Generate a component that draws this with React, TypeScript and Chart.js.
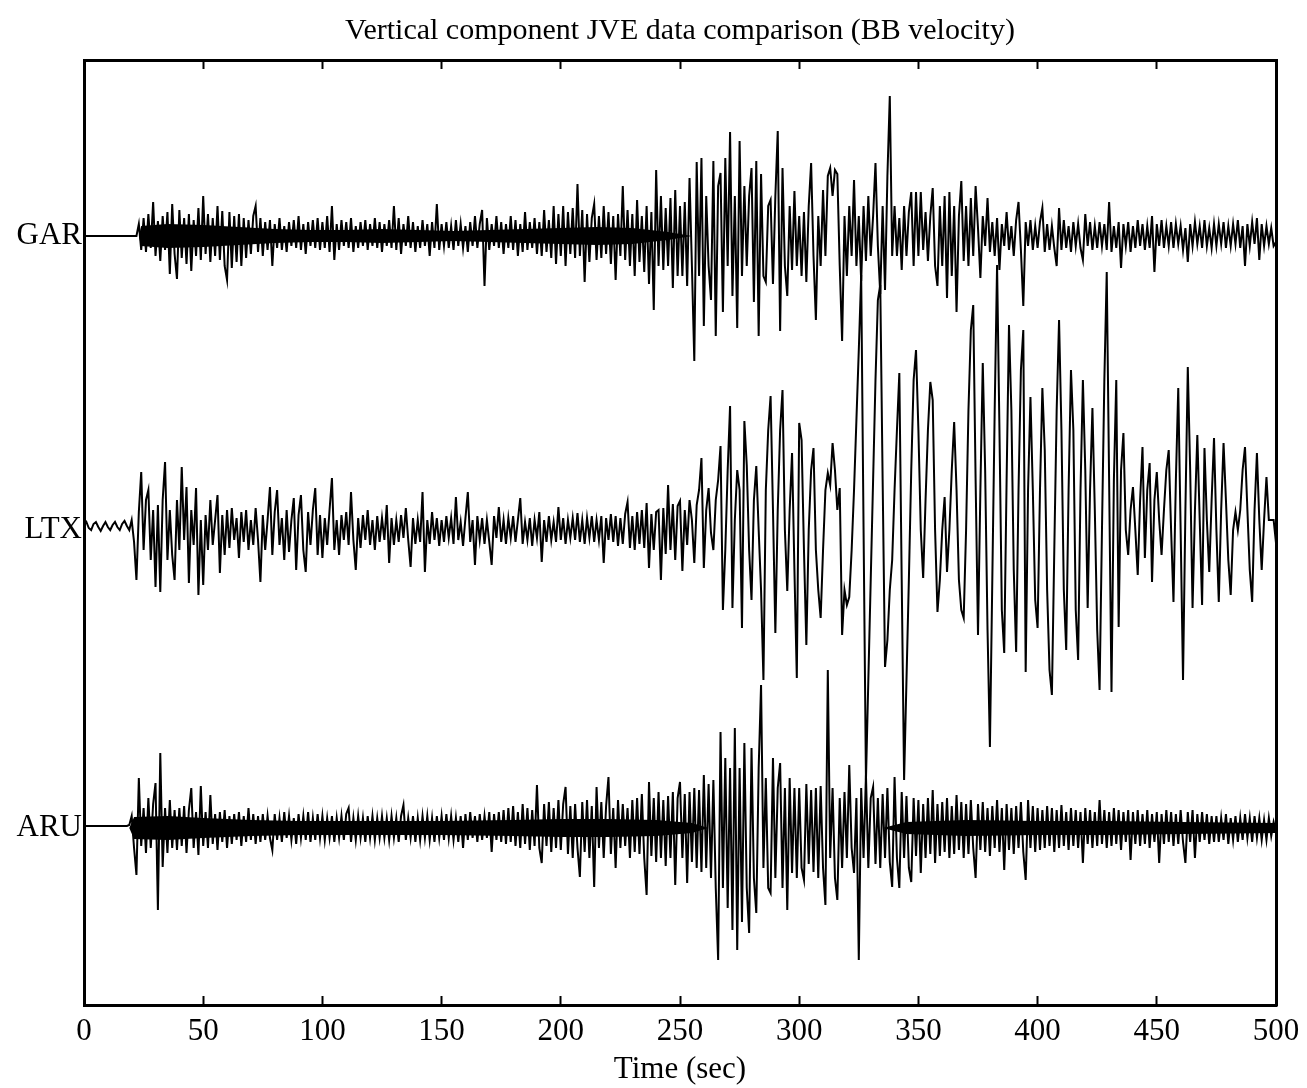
import React, { useEffect, useRef } from 'react';
import { Chart, registerables } from 'chart.js';

Chart.register(...registerables);

const CHART_TITLE = 'Vertical component JVE data comparison (BB velocity)';
const X_TITLE = 'Time (sec)';
const TIME_MIN = 0;
const TIME_MAX = 500;
const TIME_TICK_STEP = 50;
const SAMPLE_SEC = 1; // one value per second
const ROW_SECONDS = 25; // each row below starts at row * 25 s

const STATIONS = ['GAR', 'LTX', 'ARU'];
// vertical offsets of the stacked traces on the (arbitrary) amplitude axis
const TRACE_OFFSETS = [769, 475, 177];
const AMP_MAX = 945;

// Trace amplitudes (arbitrary units, up = positive), one value per second
const GAR_ROWS: number[][] = [
  [0, 0, 0, 0, 0, 0, 0, 0, 0, 0, 0, 0, 0, 0, 0, 0, 0, 0, 0, 0, 0, 0, 0, 12, -14],
  [18, -16, 22, -12, 34, -20, 15, -25, 20, -14, 24, -38, 32, -18, -43, 26, -22, 18, -28, 22, -35, 16, -20, 28, -24],
  [40, -18, 22, -26, 18, -20, 30, -24, 25, -30, -44, 24, -32, 20, -26, 22, -30, 18, -22, 16, -18, 20, 30, -16, 18],
  [-20, 14, -14, 16, -30, 12, -12, 18, -14, 10, -16, 14, -10, 16, -12, 20, -14, 12, -18, 14, -10, 16, -12, 18, -14],
  [14, -12, 20, -16, 30, -24, 12, -14, 16, -10, 14, -12, 18, -16, 10, -12, 14, -10, 16, -14, 12, -10, 18, -12, 14],
  [-16, 12, -10, 16, -12, 30, -14, 18, -18, 12, -10, 20, -12, 14, -16, 10, -12, 16, -10, 12, -20, 14, -12, 32, -14],
  [12, -10, 14, -12, 10, -14, 16, -10, 12, -12, 10, -16, 14, -10, 20, -12, 12, 26, -50, 18, -14, 12, -10, 20, -12],
  [14, -18, 12, -12, 20, -14, 16, -20, 12, -16, 24, -14, 14, -12, 18, -18, 14, -20, 26, -16, 16, -22, 30, -28, 22],
  [-20, 30, -30, 24, -18, 28, -22, 52, -20, 26, -46, 22, -26, 18, 32, -24, 20, -22, 30, -18, 24, -28, 20, -44, 22],
  [-20, 50, -24, 26, -30, 22, -40, 36, -26, 20, -36, 30, -48, 24, -74, 66, -30, 40, -34, 28, -30, 38, -52, 46, -40],
  [30, -40, 34, -50, 58, -30, -125, 74, -40, 78, -90, 40, -30, -64, 75, -100, 50, 63, -76, 78, -30, 104, -60, 40, -92],
  [95, -40, 50, -30, 40, 68, -66, 75, -100, 62, -40, -46, 30, 36, -48, 40, 105, -95, 68, -30, -60, 30, -34, 45, -30],
  [20, -40, 24, -46, 30, 73, -20, -84, 20, -30, 46, -20, 60, 68, 40, 66, 62, -30, -105, 20, -40, 30, -20, 56, -30],
  [20, -45, 30, -25, 40, -20, 20, 73, -10, -58, 30, -54, 60, 140, -20, 30, -20, 18, -34, 30, -20, 24, 44, -30, 44],
  [-20, 44, -14, 24, -25, 20, 48, -30, -50, 30, -30, 40, -62, 44, -40, 30, -76, 20, 55, -25, 30, -30, 38, -20, 50],
  [8, -42, 20, -10, 38, -16, 14, -20, 18, -34, 12, -10, 24, -14, 10, -20, 16, 34, -14, -70, 14, -10, 16, -14, 10],
  [-12, 14, 28, -16, 12, -14, 10, -12, -30, 28, -14, 16, -12, 10, -16, 14, -10, 12, -12, -24, 22, -10, 14, -14, 10],
  [-12, 14, -10, 12, -14, 34, -16, 10, -12, 14, -32, 12, -10, 14, -16, 10, -12, 16, -10, 12, -14, 10, -12, 20, -36],
  [12, -10, 16, -12, 10, -10, 14, -12, 12, -8, 10, -14, 8, -26, 12, -10, 14, -8, 10, -12, 16, -10, 8, -12, 12],
  [-10, 12, -8, 14, -12, 10, -10, 12, -8, 16, -12, 10, -30, 12, -10, 14, -8, 18, -24, 12, -10, 10, -8, 8, -10],
  [-6],
];

const LTX_ROWS: number[][] = [
  [5, 8, 2, 0, 6, 8, 3, -1, 4, 8, 3, 0, 5, 8, 3, 0, 6, 9, 4, 0, 10, -12, -50, 18, 58],
  [-20, 30, 40, -30, 20, -57, 25, -62, 30, 68, -30, 20, -25, -50, 30, -20, 63, -10, 43, -53, 20, -15, 42, -65, 10],
  [-55, 15, -20, 30, -15, 10, 35, -43, 15, -25, 20, -18, 22, -10, 12, -28, 18, -12, 20, -20, 10, -15, 22, -10, -52],
  [15, -20, 10, 43, -25, 18, 40, -15, 12, -30, 20, -22, 10, 32, -40, 15, 35, -20, -42, 18, -15, 20, 42, -25, 15],
  [-28, 12, -15, 20, 52, -20, 10, -25, 15, -10, 18, -15, 38, -10, -40, 12, -18, 15, -10, 20, -15, 10, -20, 14, -12],
  [12, -10, 25, -33, 12, -15, 10, -12, 15, -8, 22, -10, -37, 12, -14, 10, -12, 38, -42, 10, -14, 18, -10, 12, -16],
  [10, -12, 14, -8, 12, -14, 33, -10, 8, -16, 12, 38, -12, 10, -35, 14, -10, 12, -14, 10, -12, -35, 14, -8, 23],
  [-12, 10, -14, 12, -8, 14, -12, 10, 32, -14, 8, -10, 12, -16, 10, -8, 18, -32, 10, -12, 14, -10, 8, -12, 23],
  [-10, 12, -14, 10, -8, 12, -10, 17, -12, 10, -14, 12, -8, 14, -12, 10, -10, 14, -33, 12, -10, 16, -12, 14, -16],
  [12, -14, 16, 28, -18, 14, -20, 18, -14, 20, -18, 27, -38, 16, -20, 18, 20, -50, 22, -24, 45, -20, 26, -30, 24],
  [29, -41, 20, -15, 30, 10, -33, 25, 40, 72, -38, 20, 42, -3, -20, 30, 50, 84, -80, -20, 60, 124, -78, 10, 60],
  [40, -98, 109, 65, -20, -70, 30, 64, 0, -60, -150, 40, 100, 134, 20, -103, 20, 100, 140, 0, -61, 20, 77, -40, -148],
  [107, 90, -20, -115, 0, 60, 82, -20, -60, -88, -20, 40, 57, 45, 87, 60, 20, 42, -105, -60, -75, -67, -20, 40, 110],
  [180, 255, 0, -250, -150, -50, 50, 150, 230, 245, 50, -137, -110, -60, -30, 40, 100, 157, -50, -250, -150, -50, 60, 150, 180],
  [100, 0, -48, 30, 100, 148, 130, 0, -82, -50, 0, 33, -42, 0, 60, 108, 40, -50, -80, -88, 0, 120, 200, 225, 50],
  [-105, 40, 167, 60, -100, -217, -50, 120, 265, 100, -80, -123, 50, 205, 120, -40, -122, 40, 160, 200, -142, 40, 133, 40, -70],
  [-98, 40, 142, 80, -60, -140, -165, -20, 120, 210, 100, -60, -120, 40, 160, 100, -80, -130, 40, 150, 60, -78, 40, 122, 20],
  [-100, -160, 0, 150, 258, 50, -162, 50, 150, -97, 60, 97, 0, -25, 20, 43, 0, -45, 30, 83, -28, 40, 67, -52, 30],
  [58, 10, -25, 20, 60, 80, 0, -72, 50, 142, 0, -150, 20, 163, 60, -78, 20, 95, 10, -75, 82, 10, -42, 30, 92],
  [0, -72, 20, 87, 30, -30, -65, 0, 18, 0, 20, 60, 83, 20, -40, -72, 20, 77, 10, -40, 10, 53, 10, 10, 10],
  [-13],
];

const ARU_ROWS: number[][] = [
  [2, 2, 2, 2, 2, 2, 2, 2, 2, 2, 2, 2, 2, 2, 2, 2, 2, 2, 2, 3, 12, -20, -47, 50, -18],
  [20, -25, 30, -20, 24, 45, -82, 75, -39, 20, -25, 28, -20, 18, -22, 20, -18, 22, -25, 18, 40, -20, 16, -27, 42],
  [-18, 16, -20, 33, -16, 14, -22, 16, -14, 18, -20, 12, -16, 14, -12, 16, -18, 12, -14, 20, -12, 14, -16, 12, -14],
  [14, -12, 12, -10, -22, 14, -12, 10, -14, 16, -10, 12, -12, 10, -16, 14, -10, 12, -12, 16, -14, 10, -12, 14, -10],
  [12, -12, 10, -10, 12, -14, 10, -10, 12, -12, 14, 20, -14, 10, -12, 12, -10, 10, -14, 12, -10, 12, -12, 10, -10],
  [12, -10, 10, -12, 12, -10, 10, -14, 12, 23, -12, 10, -10, 12, -14, 10, -12, 12, -10, 12, -12, 10, -14, 12, -10],
  [12, -12, 14, -10, 12, -12, 10, -14, 12, -20, 14, -12, 16, -10, 12, -14, 14, -12, 12, -10, 16, -24, 14, -12, 16],
  [-14, 18, -16, 20, -14, 22, -18, 16, -20, 24, -16, 20, -22, 18, -18, 43, -20, -35, 24, -18, 26, -24, 20, -20, 28],
  [-22, 24, 41, -26, 22, -30, 24, -20, -49, 26, -24, 28, -30, 22, -59, 41, -20, 26, -30, 22, 51, -26, 20, -40, 28],
  [-20, 24, -18, 20, -30, 28, -24, 30, -26, 34, -30, -67, 46, -28, 30, -34, 36, -30, 28, -38, 32, -30, 36, -57, 30],
  [46, -30, 34, -55, 36, -34, 40, -40, 38, -44, 53, -40, 44, -50, 48, -60, -132, 96, -60, 70, -80, 60, -102, 100, -122],
  [60, -94, 85, -60, -105, 80, -50, -85, 60, 143, -40, 50, -60, -65, 70, -50, 40, 65, -60, 40, -82, 50, -45, 40, -50],
  [40, -40, -52, 44, -36, 38, -44, 40, -50, 42, -40, -77, 158, -30, 40, -50, -72, 30, -40, 36, -30, 63, -20, -45, 30],
  [-132, 40, -30, 53, -40, 30, 41, -36, 30, -40, 34, -30, 40, -34, -59, 51, -30, -60, 36, -30, 32, -40, -54, 30, -28],
  [28, -45, 24, -30, 30, -26, 38, -35, 24, -28, 26, -24, 30, -30, 22, -26, 33, -22, 26, -30, 24, -26, 28, -20, -50],
  [24, -22, 26, -24, 20, -28, 22, -20, 28, -24, 20, -42, 24, -22, 20, -26, 22, -20, 26, -24, -52, 28, -20, 22, -24],
  [20, -22, 18, -20, 22, -18, 20, -24, 18, -20, 23, -18, 16, -22, 20, -18, 18, -20, 16, -35, 20, -16, 18, -20, 16],
  [-18, 28, -16, 18, -20, 16, -18, 20, -16, 18, -22, 16, -14, 18, -32, 16, -16, 18, -18, 14, -16, 18, -20, 14, -14],
  [16, -35, 14, -16, 18, -14, 16, -18, 14, -16, 18, -14, -35, 16, -14, 18, -30, 14, -14, 16, -12, 14, -16, 12, -14],
  [12, -14, 10, -12, 14, -16, 10, -12, 12, -14, 10, -12, 14, -10, 10, -14, 12, -10, 10, -12, 8, -12, 10, -8, 6],
  [-4],
];

// Half-width of the densely inked core of the high-frequency traces
const GAR_CORE_TIMES = [0, 23, 24, 35, 50, 65, 80, 95, 110, 125, 140, 155, 170, 185, 200, 215, 230, 245, 255, 500];
const GAR_CORE = [0, 0, 10, 12, 11, 9, 7, 6, 6, 7, 6, 5, 6, 7, 8, 9, 8, 4, 0, 0];
const ARU_CORE_TIMES = [0, 19, 21, 35, 50, 70, 90, 120, 150, 180, 200, 220, 240, 255, 262, 335, 345, 370, 400, 430, 460, 500];
const ARU_CORE = [0, 0, 11, 12, 10, 8, 7, 7, 7, 8, 9, 9, 8, 5, 0, 0, 6, 8, 7, 7, 6, 5];

const TRACE_ROWS = [GAR_ROWS, LTX_ROWS, ARU_ROWS];

function buildPoints(rows: number[][], offset: number) {
  const pts: { x: number; y: number }[] = [];
  rows.forEach((row, r) => {
    row.forEach((v, j) => {
      pts.push({ x: (r * ROW_SECONDS + j) * SAMPLE_SEC, y: offset + v });
    });
  });
  return pts;
}

function bandDatasets(times: number[], half: number[], offset: number) {
  const upper = times.map((t, i) => ({ x: t, y: offset + half[i] }));
  const lower = times.map((t, i) => ({ x: t, y: offset - half[i] }));
  const common = { borderWidth: 0, borderColor: 'rgba(0,0,0,0)', pointRadius: 0, tension: 0, backgroundColor: '#000' };
  return [
    { ...common, label: 'core+', data: upper, fill: false },
    { ...common, label: 'core-', data: lower, fill: '-1' },
  ];
}

const FONT_FAMILY = '"Liberation Serif", "Times New Roman", Times, serif';

export default function App() {
  const canvasRef = useRef<HTMLCanvasElement>(null);

  useEffect(() => {
    const canvas = canvasRef.current;
    if (!canvas) return;
    Chart.defaults.font.family = FONT_FAMILY;
    Chart.defaults.color = '#000';

    const traceSets = TRACE_ROWS.map((rows, i) => ({
      label: STATIONS[i],
      data: buildPoints(rows, TRACE_OFFSETS[i]),
      borderColor: '#000',
      borderWidth: 2,
      pointRadius: 0,
      tension: 0,
      fill: false,
    }));

    const datasets = [
      ...bandDatasets(GAR_CORE_TIMES, GAR_CORE, TRACE_OFFSETS[0]),
      ...bandDatasets(ARU_CORE_TIMES, ARU_CORE, TRACE_OFFSETS[2]),
      ...traceSets,
    ];

    const tickGrid = {
      display: true,
      drawOnChartArea: false,
      drawTicks: true,
      tickLength: -9,
      tickWidth: 2,
      tickColor: '#000',
    };
    const frame = { display: true, color: '#000', width: 3 };

    const chart = new Chart(canvas, {
      type: 'line',
      data: { datasets },
      options: {
        animation: false,
        responsive: true,
        maintainAspectRatio: false,
        events: [],
        parsing: false,
        normalized: true,
        layout: { padding: { left: 0, right: 0, top: 0, bottom: 0 } },
        plugins: {
          legend: { display: false },
          tooltip: { enabled: false },
          filler: { propagate: false },
          title: {
            display: true,
            text: CHART_TITLE,
            color: '#000',
            fullSize: false,
            font: { size: 30, weight: 'normal', family: FONT_FAMILY },
            padding: { top: 13, bottom: 11 },
          },
        },
        scales: {
          x: {
            type: 'linear',
            position: 'bottom',
            min: TIME_MIN,
            max: TIME_MAX,
            ticks: {
              stepSize: TIME_TICK_STEP,
              color: '#000',
              font: { size: 31, family: FONT_FAMILY },
              padding: 17,
              maxRotation: 0,
              autoSkip: false,
            },
            grid: tickGrid,
            border: frame,
            title: {
              display: true,
              text: X_TITLE,
              color: '#000',
              font: { size: 31, family: FONT_FAMILY },
              padding: { top: 0, bottom: 0 },
            },
            afterFit: (s: any) => {
              s.height = 83;
              s.paddingLeft = 0;
              s.paddingRight = 0;
            },
          },
          x2: {
            type: 'linear',
            position: 'top',
            min: TIME_MIN,
            max: TIME_MAX,
            ticks: { display: false, stepSize: TIME_TICK_STEP },
            grid: tickGrid,
            border: frame,
            afterFit: (s: any) => {
              s.height = 0;
              s.paddingLeft = 0;
              s.paddingRight = 0;
            },
          },
          y: {
            type: 'linear',
            position: 'left',
            min: 0,
            max: AMP_MAX,
            afterBuildTicks: (s: any) => {
              s.ticks = TRACE_OFFSETS.map((v) => ({ value: v }));
            },
            ticks: {
              autoSkip: false,
              color: '#000',
              font: { size: 31, family: FONT_FAMILY },
              padding: 2,
              callback: (_v: any, i: number) => STATIONS[i],
            },
            grid: { display: false, drawTicks: false },
            border: frame,
            afterFit: (s: any) => {
              s.width = 84;
            },
          },
          y2: {
            type: 'linear',
            position: 'right',
            min: 0,
            max: AMP_MAX,
            ticks: { display: false },
            grid: { display: false, drawTicks: false },
            border: frame,
            afterFit: (s: any) => {
              s.width = 31;
            },
          },
        },
      } as any,
    });

    return () => chart.destroy();
  }, []);

  return (
    <div style={{ position: 'fixed', left: 0, top: 0, width: 1307, height: 1088, background: '#fff' }}>
      <canvas ref={canvasRef} />
    </div>
  );
}
